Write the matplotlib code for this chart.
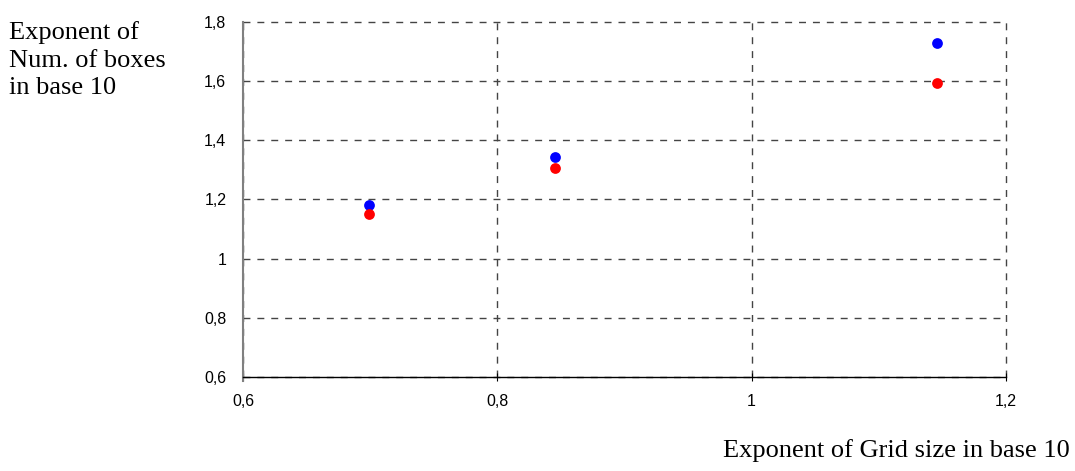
import matplotlib
matplotlib.use('Agg')
import matplotlib.pyplot as plt
from matplotlib.ticker import FuncFormatter

# log10 of grid size vs log10 of box counts
grid_exp = [0.699, 0.845, 1.146]
boxes_blue = [1.180, 1.343, 1.730]
boxes_red = [1.150, 1.305, 1.594]

x_ticks = [0.6, 0.8, 1.0, 1.2]
y_ticks = [0.6, 0.8, 1.0, 1.2, 1.4, 1.6, 1.8]


def comma_fmt(v, pos):
    s = '{:g}'.format(round(v, 2))
    return s.replace('.', ',')


fig = plt.figure(figsize=(10.75, 4.71), dpi=100)
ax = fig.add_axes([0.226, 0.1996, 0.7098, 0.7537])

ax.scatter(grid_exp, boxes_blue, s=60, color='#0000ff', zorder=3, linewidths=0)
ax.scatter(grid_exp, boxes_red, s=60, color='#ff0000', zorder=3, linewidths=0)

ax.set_xlim(0.6, 1.2)
ax.set_ylim(0.6, 1.8)
ax.set_xticks(x_ticks)
ax.set_yticks(y_ticks)
ax.xaxis.set_major_formatter(FuncFormatter(comma_fmt))
ax.yaxis.set_major_formatter(FuncFormatter(comma_fmt))

ax.grid(True, color='#444444', linestyle=(0, (5, 5)), linewidth=1.0)
ax.set_axisbelow(True)
for gl in ax.get_xgridlines() + ax.get_ygridlines():
    gl.set_clip_on(False)

ax.spines['top'].set_visible(False)
ax.spines['right'].set_visible(False)
ax.spines['left'].set_color('#808080')
ax.spines['left'].set_linewidth(1.5)
ax.spines['left'].set_bounds(0.587, 1.8)
ax.spines['bottom'].set_color('black')
ax.spines['bottom'].set_linewidth(1.0)

ax.tick_params(axis='x', direction='inout', length=6, width=0.8, pad=9,
               labelsize=11.5, colors='black')
ax.tick_params(axis='y', length=0, pad=12, labelsize=11.5, colors='black')
for lbl in ax.get_xticklabels() + ax.get_yticklabels():
    lbl.set_family('Liberation Sans')

fig.text(0.008, 0.955, 'Exponent of\nNum. of boxes\nin base 10', ha='left', va='top',
         fontsize=19, family='Liberation Serif', linespacing=1.33)
fig.text(0.995, 0.02, 'Exponent of Grid size in base 10', ha='right', va='bottom',
         fontsize=19, family='Liberation Serif')

fig.savefig('out.png', dpi=100)
